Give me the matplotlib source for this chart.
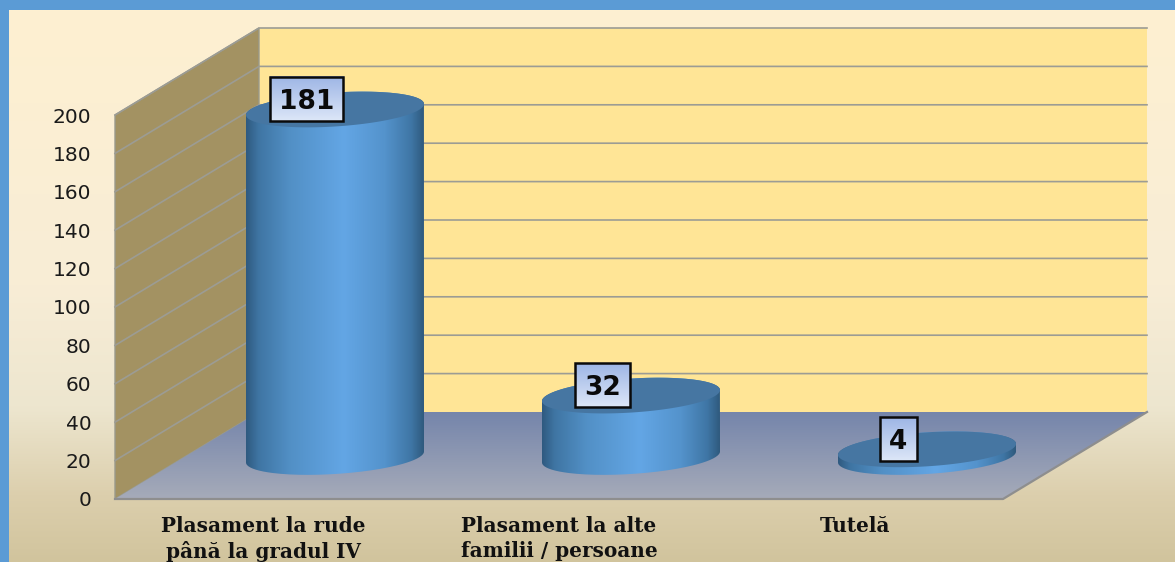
import numpy as np
import matplotlib
matplotlib.use("Agg")
import matplotlib.pyplot as plt
from matplotlib.colors import LinearSegmentedColormap as LSC
from matplotlib.patches import Polygon, PathPatch, Rectangle
from matplotlib.path import Path

categories = ["Plasament la rude\npână la gradul IV",
              "Plasament la alte\nfamilii / persoane",
              "Tutelă"]
values = [181, 32, 4]
yticks = [0, 20, 40, 60, 80, 100, 120, 140, 160, 180, 200]

W, H = 1175, 562
PX_X, PX_Y = 296.0, 1.92      # pixels per category / per value unit
X0_PX, Y0_PX = 335.0, 499.0   # pixel of category 0 centre / value 0 on front wall
dx = lambda p: p / PX_X
dy = lambda p: p / PX_Y

fig = plt.figure(figsize=(W / 100, H / 100), dpi=100, facecolor="#5B9BD5")
ax = fig.add_axes([0, 0, 1, 1])
ax.patch.set_visible(False)
XLIM = (-X0_PX / PX_X, (W - X0_PX) / PX_X)
YLIM = (-(H - Y0_PX) / PX_Y, Y0_PX / PX_Y)


def grad(colors, extent, vertical=True, clip=None, z=1):
    cmap = LSC.from_list("g", colors)
    g = np.linspace(0, 1, 256)
    arr = g[:, None] if vertical else g[None, :]
    im = ax.imshow(arr, cmap=cmap, extent=extent, origin="upper", aspect="auto",
                   zorder=z, interpolation="bilinear", vmin=0, vmax=1)
    if clip is not None:
        im.set_clip_path(clip)
    return im


# page background
grad([(0, "#FEF0D1"), (0.5, "#F8EDD6"), (0.72, "#EDE6CF"), (0.88, "#DCCFAD"), (1, "#D1C49D")],
     [XLIM[0] + dx(9), XLIM[1], YLIM[0], YLIM[1] - dy(10)], z=0)

# 3D box geometry
LEFT = XLIM[0] + dx(115)
DEPTH_X = dx(144)
DEPTH_Y = dy(87)
FRONT_W = dx(888)
TOP = 200.0

# back wall
ax.add_patch(Rectangle((LEFT + DEPTH_X, DEPTH_Y), FRONT_W, TOP, fc="#FFE596", ec="none", zorder=1))
# side wall
ax.add_patch(Polygon([(LEFT, 0), (LEFT + DEPTH_X, DEPTH_Y), (LEFT + DEPTH_X, TOP + DEPTH_Y), (LEFT, TOP)],
                     fc="#A39262", ec="#9A9A8C", lw=1, zorder=1))
# floor
floor = Polygon([(LEFT, 0), (LEFT + DEPTH_X, DEPTH_Y), (LEFT + DEPTH_X + FRONT_W, DEPTH_Y), (LEFT + FRONT_W, 0)],
                fc="none", ec="none", zorder=2)
ax.add_patch(floor)
grad(["#7585AB", "#A6ABB9"], [LEFT, LEFT + DEPTH_X + FRONT_W, 0, DEPTH_Y], clip=floor, z=2)
ax.plot([LEFT, LEFT + FRONT_W, LEFT + DEPTH_X + FRONT_W], [0, 0, DEPTH_Y], color="#8E8E8E", lw=1.6, zorder=3)

# grid
for v in yticks[1:]:
    ax.plot([LEFT, LEFT + DEPTH_X, LEFT + DEPTH_X + FRONT_W], [v, v + DEPTH_Y, v + DEPTH_Y],
            color="#9C9C94", lw=1.2, zorder=2)

# cylinders
A_PX, B_PX, TILT_PX = 89.0, 17.0, 5.5
BASE = dy(42)
body_colors = [(0, "#2F5A80"), (0.07, "#3F75A3"), (0.25, "#5290C6"), (0.55, "#63A6E5"),
               (0.78, "#5493CC"), (0.93, "#3F76A5"), (1, "#2F5A7E")]


def ellipse(cx, cy, t):
    return np.c_[cx + dx(A_PX) * np.cos(t), cy + dy(B_PX) * np.sin(t) + dy(TILT_PX) * np.cos(t)]


tops = []
for i, v in enumerate(values):
    top = v + BASE
    tops.append(top)
    lower = ellipse(i, BASE, np.linspace(np.pi, 2 * np.pi, 80))
    upper = ellipse(i, top, np.linspace(0, np.pi, 80))
    verts = np.vstack([lower, upper, lower[:1]])
    body = PathPatch(Path(verts), fc="none", ec="none", zorder=4, transform=ax.transData)
    ax.add_patch(body)
    grad(body_colors, [i - dx(A_PX), i + dx(A_PX), BASE - dy(30), top + dy(30)],
         vertical=False, clip=body, z=4)
    ax.add_patch(Polygon(ellipse(i, top, np.linspace(0, 2 * np.pi, 160)),
                         fc="#4676A2", ec="none", zorder=5))

# axis labels through the axes themselves
ax.spines[["top", "right", "left", "bottom"]].set_visible(False)
ax.spines["left"].set_position(("data", LEFT))
ax.spines["bottom"].set_position(("data", 0))
ax.set_yticks(yticks)
ax.tick_params(axis="y", length=0, pad=17, labelsize=14.5, labelcolor="#1A1A1A")
ax.set_xticks([i - dx(72) for i in range(len(categories))])
ax.set_xticklabels(categories, family="DejaVu Serif", fontweight="bold", fontsize=14.4,
                   color="#111111", linespacing=1.27)
ax.tick_params(axis="x", length=0, pad=12.5)
ax.set_xlim(XLIM)
ax.set_ylim(YLIM)

# data labels with gradient boxes
renderer = fig.canvas.get_renderer()
for i, v in enumerate(values):
    cx, cy = i - dx(28.5), tops[i] + dy(10.5)
    t = ax.text(cx, cy, str(v), ha="center", va="center_baseline", fontsize=19,
                fontweight="bold", color="#0A0A0A", zorder=8)
    w_px = t.get_window_extent(renderer).width + 18
    hw, hh = dx(w_px / 2), dy(22)
    grad(["#9DB5E5", "#DDE7F8"], [cx - hw, cx + hw, cy - hh, cy + hh], z=6)
    ax.add_patch(Rectangle((cx - hw, cy - hh), 2 * hw, 2 * hh, fc="none", ec="#0A0A0A", lw=1.8, zorder=7))

ax.set_xlim(XLIM)
ax.set_ylim(YLIM)
fig.savefig("out.png", dpi=100, facecolor=fig.get_facecolor())
